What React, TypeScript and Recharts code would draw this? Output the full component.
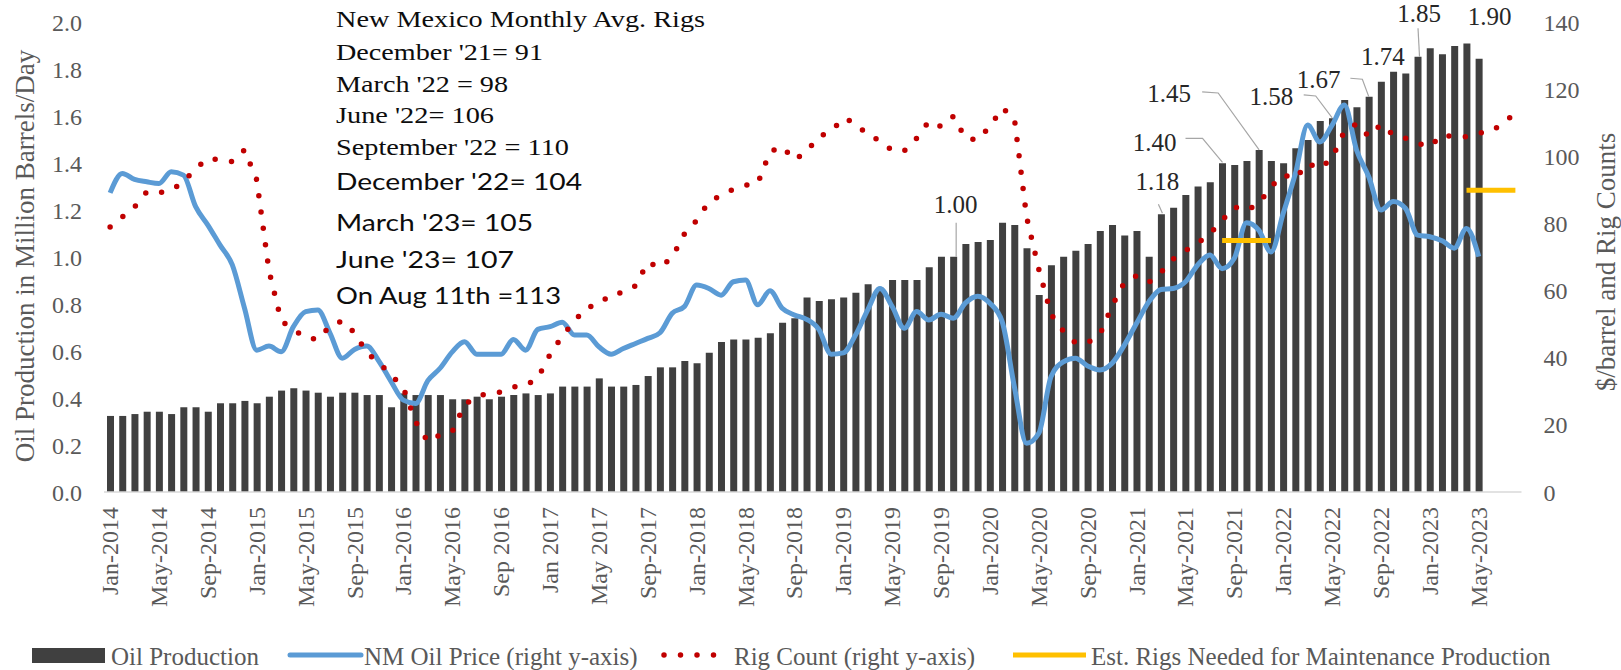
import React from "react";
import { ComposedChart, Bar, Line, XAxis, YAxis, LabelList } from "recharts";

// ---------- categories (Jan 2014 .. Aug 2023) ----------
const monthAbbr = ["Jan", "Feb", "Mar", "Apr", "May", "Jun", "Jul", "Aug", "Sep", "Oct", "Nov", "Dec"];
const yearsCovered = [2014, 2015, 2016, 2017, 2018, 2019, 2020, 2021, 2022, 2023];
const categories: string[] = [];
yearsCovered.forEach((y) =>
  monthAbbr.forEach((m, mi) => {
    if (y === 2023 && mi > 7) return;
    categories.push(`${m}-${y}`);
  })
);

const tickLabels = [
  "Jan-2014", "May-2014", "Sep-2014", "Jan-2015", "May-2015", "Sep-2015", "Jan-2016", "May-2016",
  "Sep 2016", "Jan 2017", "May 2017", "Sep-2017", "Jan-2018", "May-2018", "Sep-2018", "Jan-2019",
  "May-2019", "Sep-2019", "Jan-2020", "May-2020", "Sep-2020", "Jan-2021", "May-2021", "Sep-2021",
  "Jan-2022", "May-2022", "Sep-2022", "Jan-2023", "May-2023",
];

// Oil production, million barrels/day (Jan 2014 .. May 2023)
const oilProduction = [
  0.324, 0.324, 0.332, 0.342, 0.342, 0.332, 0.361, 0.361, 0.342, 0.378, 0.378, 0.388,
  0.378, 0.406, 0.432, 0.442, 0.432, 0.423, 0.406, 0.423, 0.423, 0.413, 0.413, 0.361,
  0.420, 0.413, 0.413, 0.413, 0.395, 0.395, 0.406, 0.395, 0.406, 0.413, 0.420, 0.413,
  0.420, 0.449, 0.449, 0.449, 0.484, 0.449, 0.449, 0.456, 0.494, 0.531, 0.531, 0.558,
  0.548, 0.593, 0.639, 0.650, 0.650, 0.657, 0.676, 0.721, 0.740, 0.829, 0.814, 0.821,
  0.829, 0.849, 0.885, 0.870, 0.903, 0.903, 0.903, 0.957, 1.002, 1.002, 1.056, 1.065,
  1.073, 1.147, 1.137, 1.038, 0.839, 0.966, 1.002, 1.028, 1.056, 1.112, 1.137, 1.093,
  1.112, 1.002, 1.183, 1.211, 1.265, 1.301, 1.319, 1.400, 1.393, 1.410, 1.457, 1.410,
  1.400, 1.464, 1.500, 1.580, 1.592, 1.670, 1.639, 1.684, 1.748, 1.790, 1.783, 1.854,
  1.890, 1.865, 1.900, 1.911, 1.846,
];

// NM oil price, $/barrel (Jan 2014 .. May 2023)
const oilPrice = [
  89.2, 95.0, 93.2, 92.5, 92.0, 95.5, 94.5, 85.1, 79.6, 73.6, 67.7, 54.8,
  42.3, 43.5, 41.8, 49.3, 53.8, 54.3, 47.3, 39.9, 42.5, 43.5, 39.0, 32.9,
  27.4, 26.4, 33.2, 36.9, 41.8, 44.8, 41.1, 41.1, 41.1, 45.5, 42.3, 48.5,
  49.3, 50.6, 46.8, 46.8, 43.3, 41.1, 42.8, 44.3, 45.8, 47.5, 53.3, 55.3,
  61.7, 60.7, 58.7, 62.7, 63.2, 55.8, 60.0, 54.8, 52.8, 51.5, 48.5, 41.1,
  41.5, 46.8, 54.3, 60.7, 55.3, 48.8, 53.8, 51.3, 53.0, 51.8, 56.4, 58.4,
  56.3, 50.8, 31.4, 14.5, 17.5, 34.4, 38.8, 39.9, 37.6, 36.4, 38.4, 43.8,
  50.3, 56.7, 60.4, 60.7, 62.7, 67.7, 70.7, 66.6, 69.7, 80.3, 78.1, 71.6,
  83.1, 95.0, 109.4, 104.4, 109.4, 115.4, 102.0, 94.0, 84.1, 86.6, 84.6, 76.6,
  76.1, 74.9, 72.7, 78.6, 70.2,
];

// Rig count (Jan 2014 .. Aug 2023)
const rigCount = [
  79, 82, 85, 89.5, 89.2, 90, 92.5, 96.5, 99.5, 99, 98.5, 102,
  93, 66, 51, 48.5, 46, 45.5, 49.5, 51, 47.5, 41.5, 38.5, 35,
  31, 21, 15, 17, 18, 26, 28.5, 29.4, 29.8, 31.3, 31.8, 34,
  41, 46.5, 51, 55, 56, 59, 59.5, 61.5, 68.5, 67, 70, 77,
  81, 86.5, 88.5, 90.3, 91.5, 92, 101.5, 103, 99, 101.5, 106, 107.5,
  111.5, 110, 106.4, 104.8, 101.8, 101.8, 105.5, 110.5, 109, 112, 105.5, 105,
  109, 114.5, 111.5, 82, 66.4, 53, 48, 44.5, 44.5, 47, 55.5, 62.5,
  64.5, 62.5, 65.5, 69.5, 72, 74.2, 77, 81, 85, 84, 86, 91,
  94.5, 93.5, 98, 96.5, 99.5, 107.5, 109.8, 106, 109.6, 106.5, 105.5, 104,
  103, 106.5, 105.9, 105.9, 107, 107.5, 110, 113,
];

// Est. rigs needed for maintenance production (Jan 2014 .. Aug 2023)
const maintenanceRigs = [
  null, null, null, null, null, null, null, null, null, null, null, null,
  null, null, null, null, null, null, null, null, null, null, null, null,
  null, null, null, null, null, null, null, null, null, null, null, null,
  null, null, null, null, null, null, null, null, null, null, null, null,
  null, null, null, null, null, null, null, null, null, null, null, null,
  null, null, null, null, null, null, null, null, null, null, null, null,
  null, null, null, null, null, null, null, null, null, null, null, null,
  null, null, null, null, null, null, null, 75, 75, 75, 75, 75,
  null, null, null, null, null, null, null, null, null, null, null, null,
  null, null, null, 90, 90, 90, 90, 90,
];

// Data labels on production bars
const barLabels = [
  { month: "Oct-2019", text: "1.00" },
  { month: "Mar-2021", text: "1.18" },
  { month: "Aug-2021", text: "1.40" },
  { month: "Nov-2021", text: "1.45" },
  { month: "Apr-2022", text: "1.58" },
  { month: "Jun-2022", text: "1.67" },
  { month: "Sep-2022", text: "1.74" },
  { month: "Dec-2022", text: "1.85" },
  { month: "Apr-2023", text: "1.90" },
];

// Label placement relative to bar top centre (layout only)
const labelPlacement: Record<string, { dx: number; dy: number; leader?: number[][] }> = {
  "1.00": { dx: 2, dy: -52, leader: [[2.5, -34], [2.5, 0]] },
  "1.18": { dx: -4, dy: -33, leader: [[-3, -10], [1, -1]] },
  "1.40": { dx: -68, dy: -21, leader: [[-37, -25], [-20, -25], [0, -1]] },
  "1.45": { dx: -90, dy: -56.5, leader: [[-57, -58], [-41, -57], [0, 0]] },
  "1.58": { dx: -49, dy: -25 },
  "1.67": { dx: -26, dy: -20, leader: [[-41, -5], [-29, -4], [-12.5, 18]] },
  "1.74": { dx: 1.6, dy: -25, leader: [[-31, -3.4], [-19, -2.4], [-12.6, 15]] },
  "1.85": { dx: 1, dy: -43, leader: [[0, -28.5], [1.5, 0]] },
  "1.90": { dx: 22.6, dy: -26.7 },
};

const leftTicks = [0, 0.2, 0.4, 0.6, 0.8, 1.0, 1.2, 1.4, 1.6, 1.8, 2.0];
const rightTicks = [0, 20, 40, 60, 80, 100, 120, 140];

const noteLines = [
  { text: "New Mexico Monthly Avg. Rigs", serif: true, y: 27, len: 369 },
  { text: "December '21= 91", serif: true, y: 60, len: 207 },
  { text: "March '22 = 98", serif: true, y: 92, len: 172 },
  { text: "June '22= 106", serif: true, y: 123, len: 158 },
  { text: "September '22 = 110", serif: true, y: 155, len: 233 },
  { text: "December '22= 104", serif: false, y: 190, len: 246 },
  { text: "March '23= 105", serif: false, y: 231, len: 197 },
  { text: "June '23= 107", serif: false, y: 268, len: 178 },
  { text: "On Aug 11th =113", serif: false, y: 304, len: 225 },
];

const chartData = categories.map((month, i) => {
  const lab = barLabels.find((b) => b.month === month);
  return {
    month,
    prod: i < oilProduction.length ? oilProduction[i] : null,
    price: i < oilPrice.length ? oilPrice[i] : null,
    rig: rigCount[i],
    maint: maintenanceRigs[i],
    label: lab ? lab.text : undefined,
  };
});

const SERIF = "'Liberation Serif', 'Times New Roman', serif";
const SANS = "Lato, 'Open Sans', sans-serif";
const GREY = "#595959";

const XTick = (props: any) => {
  const { x, y, payload } = props;
  const i = categories.indexOf(payload.value);
  if (i < 0 || i % 4 !== 0) return <g />;
  const label = tickLabels[i / 4];
  const ty = y + 15;
  return (
    <text
      x={x}
      y={ty}
      transform={`rotate(-90, ${x}, ${ty})`}
      textAnchor="end"
      dominantBaseline="central"
      fontFamily={SERIF}
      fontSize={24}
      fill={GREY}
    >
      {label}
    </text>
  );
};

const renderBarLabel = (props: any) => {
  const { x, y, width, value } = props;
  if (!value || !labelPlacement[value]) return <g />;
  const p = labelPlacement[value];
  const cx = Number(x) + Number(width) / 2;
  const top = Number(y);
  return (
    <g>
      {p.leader && (
        <polyline
          points={p.leader.map(([a, b]) => `${cx + a},${top + b}`).join(" ")}
          fill="none"
          stroke="#A6A6A6"
          strokeWidth={1.2}
        />
      )}
      <text
        x={cx + p.dx}
        y={top + p.dy}
        textAnchor="middle"
        dominantBaseline="central"
        fontFamily={SERIF}
        fontSize={25}
        fill="#262626"
      >
        {value}
      </text>
    </g>
  );
};

export default function App() {
  return (
    <div style={{ position: "relative", width: 1621, height: 670, background: "#fff" }}>
      <style>{`body{margin:0;background:#fff}`}</style>
      <div style={{ position: "absolute", left: 0, top: 0 }}>
        <ComposedChart
          width={1621}
          height={670}
          data={chartData}
          margin={{ top: 22.5, right: 0, bottom: 0, left: 0 }}
        >
          <XAxis
            dataKey="month"
            interval={3}
            tickLine={false}
            tickSize={0}
            tickMargin={0}
            height={178}
            axisLine={{ stroke: "#D9D9D9", strokeWidth: 1.5 }}
            tick={<XTick />}
          />
          <YAxis
            yAxisId="left"
            width={104}
            domain={[0, 2]}
            ticks={leftTicks}
            tickFormatter={(v: number) => v.toFixed(1)}
            axisLine={false}
            tickLine={false}
            tickSize={0}
            tickMargin={22}
            tick={{ fontFamily: SERIF, fontSize: 24, fill: GREY }}
          />
          <YAxis
            yAxisId="right"
            orientation="right"
            width={99.5}
            domain={[0, 140]}
            ticks={rightTicks}
            axisLine={false}
            tickLine={false}
            tickSize={0}
            tickMargin={22}
            tick={{ fontFamily: SERIF, fontSize: 24, fill: GREY }}
          />
          <Bar yAxisId="left" dataKey="prod" fill="#404040" barSize={7} isAnimationActive={false}>
            <LabelList dataKey="label" content={renderBarLabel} />
          </Bar>
          <Line
            yAxisId="right"
            dataKey="price"
            type="monotone"
            stroke="#5B9BD5"
            strokeWidth={5}
            dot={false}
            activeDot={false}
            isAnimationActive={false}
          />
          <Line
            yAxisId="right"
            dataKey="rig"
            type="linear"
            stroke="#C00000"
            strokeWidth={5.5}
            strokeDasharray="0 16.5"
            strokeLinecap="round"
            dot={false}
            activeDot={false}
            isAnimationActive={false}
          />
          <Line
            yAxisId="right"
            dataKey="maint"
            type="linear"
            stroke="#FFC000"
            strokeWidth={5}
            dot={false}
            activeDot={false}
            connectNulls={false}
            isAnimationActive={false}
          />
        </ComposedChart>
      </div>
      <svg
        width={1621}
        height={670}
        style={{ position: "absolute", left: 0, top: 0, pointerEvents: "none" }}
      >
        {/* axis titles */}
        <text
          transform="rotate(-90)"
          x={-256}
          y={25}
          textAnchor="middle"
          dominantBaseline="central"
          fontFamily={SERIF}
          fontSize={27}
          fill={GREY}
        >
          Oil Production in Million Barrels/Day
        </text>
        <text
          transform="rotate(-90)"
          x={-262}
          y={1606}
          textAnchor="middle"
          dominantBaseline="central"
          fontFamily={SERIF}
          fontSize={27}
          fill={GREY}
        >
          $/barrel and Rig Counts
        </text>
        {/* note block */}
        {noteLines.map((l) => (
          <text
            key={l.text}
            x={336}
            y={l.y}
            fontFamily={l.serif ? SERIF : SANS}
            fontSize={l.serif ? 24 : 23}
            fill="#0d0d0d"
            textLength={l.len}
            lengthAdjust="spacingAndGlyphs"
          >
            {l.text}
          </text>
        ))}
        {/* legend */}
        <rect x={32} y={648} width={73} height={15} fill="#404040" />
        <text x={111} y={656} dominantBaseline="central" fontFamily={SERIF} fontSize={25} fill={GREY}>
          Oil Production
        </text>
        <line x1={290} y1={655} x2={361} y2={655} stroke="#5B9BD5" strokeWidth={5} strokeLinecap="round" />
        <text x={364} y={656} dominantBaseline="central" fontFamily={SERIF} fontSize={25} fill={GREY}>
          NM Oil Price (right y-axis)
        </text>
        <line
          x1={664}
          y1={655}
          x2={729}
          y2={655}
          stroke="#C00000"
          strokeWidth={5.5}
          strokeDasharray="0 16.5"
          strokeLinecap="round"
        />
        <text x={734} y={656} dominantBaseline="central" fontFamily={SERIF} fontSize={25} fill={GREY}>
          Rig Count (right y-axis)
        </text>
        <line x1={1013} y1={655} x2={1086} y2={655} stroke="#FFC000" strokeWidth={5} />
        <text x={1091} y={656} dominantBaseline="central" fontFamily={SERIF} fontSize={25} fill={GREY}>
          Est. Rigs Needed for Maintenance Production
        </text>
      </svg>
    </div>
  );
}
